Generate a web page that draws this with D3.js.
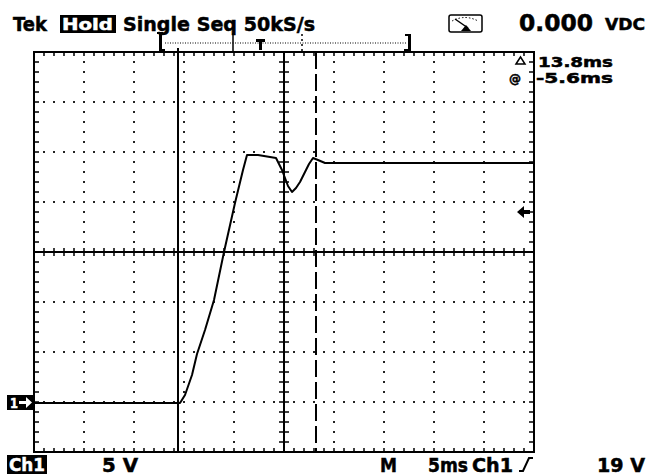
<!DOCTYPE html>
<html><head><meta charset="utf-8">
<script src="https://cdn.jsdelivr.net/npm/d3@7"></script>
<style>
body{margin:0;background:#fff}
svg{display:block}
text{font-family:"DejaVu Sans",sans-serif;font-weight:bold;fill:#000;stroke:#000;stroke-width:0.5px}
</style>
</head><body>
<svg id="c" width="650" height="475"></svg>
<script>
// ---- data (time in ms relative to trigger, voltage in V) ----
const timeMs = [-20, -5.4, -4.9, -4.2, -3.7, -2.9, -2.0, -1.0, 0.1, 0.9, 1.3, 2.4, 3.6, 4.2, 4.4, 4.8, 5.1, 5.4, 5.8, 6.2, 6.6, 7.1, 7.5, 7.9, 8.4, 9.1, 30];
const volts  = [-0.1, -0.1, 0.7, 2.7, 4.8, 7.2, 10.2, 15.0, 19.9, 23.2, 24.7, 24.7, 24.5, 24.4, 24.0, 23.2, 22.4, 21.6, 21.0, 21.4, 22.0, 23.0, 23.8, 24.4, 24.2, 23.9, 23.9];
const timeDomain = [-20, 30];       // 5 ms/div, 10 divisions
const voltDomain = [-5, 35];        // 5 V/div, 8 divisions
const cursorTimes = [-5.6, 8.2];
const triggerLevelV = 19;
const groundLevelV = 0;
const headerLabels = {tek: "Tek", hold: "Hold", mode: "Single Seq 50kS/s", meter: "0.000", unit: "VDC"};
const footerLabels = {ch: "Ch1", scale: "5 V", m: "M", time: "5ms", src: "Ch1", level: "19 V"};
const cursorLabels = ["13.8ms", "-5.6ms"];

// ---- layout ----
const L = 34, R = 534, T = 52, B = 452;
const svg = d3.select("#c");
const x = d3.scaleLinear(timeDomain, [L, R]);
const y = d3.scaleLinear(voltDomain, [B, T]);

const xMajor = d3.range(timeDomain[0], timeDomain[1] + 0.1, 5);
const yMajor = d3.range(voltDomain[0], voltDomain[1] + 0.1, 5);
const xMinor = d3.range(timeDomain[0], timeDomain[1] + 0.1, 1);
const yMinor = d3.range(voltDomain[0], voltDomain[1] + 0.1, 1);
const xCenter = (timeDomain[0] + timeDomain[1]) / 2;
const yCenter = (voltDomain[0] + voltDomain[1]) / 2;

// dotted grid
const g = svg.append("g");
const dots = [];
xMajor.slice(1, -1).filter(t => t !== xCenter).forEach(t => {
  yMinor.slice(1, -1).forEach(v => dots.push([x(t), y(v)]));
});
yMajor.slice(1, -1).filter(v => v !== yCenter).forEach(v => {
  xMinor.slice(1, -1).forEach(t => dots.push([x(t), y(v)]));
});
g.selectAll("rect.dot").data(dots).join("rect")
  .attr("x", d => d[0] - 1).attr("y", d => d[1] - 1)
  .attr("width", 2).attr("height", 2).attr("fill", "#222");

// center axes with ticks
g.append("line").attr("x1", L).attr("x2", R).attr("y1", y(yCenter)).attr("y2", y(yCenter))
  .attr("stroke", "#000").attr("stroke-width", 2);
g.append("line").attr("y1", T).attr("y2", B).attr("x1", x(xCenter)).attr("x2", x(xCenter))
  .attr("stroke", "#000").attr("stroke-width", 2);
g.selectAll("line.cx").data(xMinor.slice(1, -1)).join("line")
  .attr("x1", d => x(d)).attr("x2", d => x(d))
  .attr("y1", y(yCenter) - 4).attr("y2", y(yCenter) + 4)
  .attr("stroke", "#000").attr("stroke-width", 1.5);
g.selectAll("line.cy").data(yMinor.slice(1, -1)).join("line")
  .attr("y1", d => y(d)).attr("y2", d => y(d))
  .attr("x1", x(xCenter) - 5).attr("x2", x(xCenter) + 5)
  .attr("stroke", "#000").attr("stroke-width", 1.5);

// border ticks
const bt = [];
xMinor.slice(1, -1).forEach(t => { bt.push([x(t), T, x(t), T + 4]); bt.push([x(t), B, x(t), B - 4]); });
yMinor.slice(1, -1).forEach(v => { bt.push([L, y(v), L + 5, y(v)]); bt.push([R, y(v), R - 5, y(v)]); });
g.selectAll("line.bt").data(bt).join("line")
  .attr("x1", d => d[0]).attr("y1", d => d[1]).attr("x2", d => d[2]).attr("y2", d => d[3])
  .attr("stroke", "#000").attr("stroke-width", 1.5);

// border
g.append("rect").attr("x", L).attr("y", T).attr("width", R - L).attr("height", B - T)
  .attr("fill", "none").attr("stroke", "#000").attr("stroke-width", 2);

// cursors
svg.append("line").attr("x1", x(cursorTimes[0])).attr("x2", x(cursorTimes[0]))
  .attr("y1", T - 4).attr("y2", B).attr("stroke", "#000").attr("stroke-width", 2);
svg.append("line").attr("x1", x(cursorTimes[1])).attr("x2", x(cursorTimes[1]))
  .attr("y1", T).attr("y2", B).attr("stroke", "#000").attr("stroke-width", 2)
  .attr("stroke-dasharray", "17,5");

// waveform
const pts = timeMs.map((t, i) => [t, volts[i]]);
svg.append("path").datum(pts)
  .attr("d", d3.line().x(d => x(d[0])).y(d => y(d[1])))
  .attr("fill", "none").attr("stroke", "#000").attr("stroke-width", 2)
  .attr("stroke-linejoin", "round");

// helper for fitted text
function txt(s, px, py, size, len, fill) {
  const t = svg.append("text").attr("x", px).attr("y", py).attr("font-size", size).text(s);
  if (len) t.attr("textLength", len).attr("lengthAdjust", "spacingAndGlyphs");
  if (fill) t.style("fill", fill).style("stroke", fill);
  return t;
}

// header
txt(headerLabels.tek, 13, 31, 20, 34);
svg.append("rect").attr("x", 60).attr("y", 15).attr("width", 56).attr("height", 18).attr("fill", "#000");
txt(headerLabels.hold, 62, 30, 16, 51, "#fff");
txt(headerLabels.mode, 123, 31, 20, 192);
txt(headerLabels.meter, 519, 31, 23, 74);
txt(headerLabels.unit, 605, 30, 15, 40);

// meter icon
const mi = svg.append("g");
mi.append("rect").attr("x", 449).attr("y", 15).attr("width", 33).attr("height", 17).attr("rx", 2)
  .attr("fill", "none").attr("stroke", "#000").attr("stroke-width", 1.5);
mi.append("path").attr("d", "M452,21 Q465,14 478,21").attr("fill", "none").attr("stroke", "#000")
  .attr("stroke-width", 1).attr("stroke-dasharray", "1.5,2");
mi.append("path").attr("d", "M455,19 L468,28").attr("stroke", "#000").attr("stroke-width", 1.5);
mi.append("path").attr("d", "M461,31 L466,25 L471,31 Z").attr("fill", "#000");

// record-view bar
const rb = svg.append("g");
rb.append("rect").attr("x", 159).attr("y", 33).attr("width", 3).attr("height", 19).attr("fill", "#000");
rb.append("rect").attr("x", 157).attr("y", 32).attr("width", 6).attr("height", 2).attr("fill", "#000");
rb.append("rect").attr("x", 159).attr("y", 49).attr("width", 6).attr("height", 3).attr("fill", "#000");
rb.append("line").attr("x1", 165).attr("x2", 406).attr("y1", 43).attr("y2", 43)
  .attr("stroke", "#000").attr("stroke-width", 1).attr("stroke-dasharray", "1,1.5");
rb.append("line").attr("x1", x(0) - 1).attr("x2", x(0) - 1).attr("y1", 33).attr("y2", 52)
  .attr("stroke", "#000").attr("stroke-width", 1.5);
rb.append("rect").attr("x", 256).attr("y", 39).attr("width", 9).attr("height", 3).attr("fill", "#000");
rb.append("rect").attr("x", 259).attr("y", 39).attr("width", 3).attr("height", 11).attr("fill", "#000");
rb.append("line").attr("x1", 302).attr("x2", 302).attr("y1", 34).attr("y2", 51)
  .attr("stroke", "#000").attr("stroke-width", 1.5).attr("stroke-dasharray", "2,3");
rb.append("rect").attr("x", 408).attr("y", 34).attr("width", 3).attr("height", 18).attr("fill", "#000");
rb.append("rect").attr("x", 405).attr("y", 34).attr("width", 6).attr("height", 2).attr("fill", "#000");
rb.append("rect").attr("x", 404).attr("y", 49).attr("width", 7).attr("height", 3).attr("fill", "#000");

// cursor readouts
svg.append("path").attr("d", "M516,64 L520.5,57 L525,64 Z").attr("fill", "none")
  .attr("stroke", "#000").attr("stroke-width", 1.5);
txt(cursorLabels[0], 538, 67, 14, 75);
txt("@", 509, 83, 12, 12);
txt(cursorLabels[1], 536, 83, 14, 77);

// ground marker "1→"
const gy = y(groundLevelV);
svg.append("rect").attr("x", 7).attr("y", gy - 7).attr("width", 27).attr("height", 15).attr("fill", "#000");
txt("1", 10, gy + 6, 14, 8, "#fff");
svg.append("path").attr("d", `M19,${gy - 1} H26 V${gy - 5} L32,${gy + 0.5} L26,${gy + 6} V${gy + 2} H19 Z`).attr("fill", "#fff");

// trigger level arrow
const ty = y(triggerLevelV);
svg.append("path").attr("d", `M517,${ty} L524,${ty - 6} V${ty - 2} H530 V${ty + 2} H524 V${ty + 6} Z`).attr("fill", "#000");

// footer
svg.append("rect").attr("x", 7).attr("y", 455).attr("width", 40).attr("height", 19).attr("fill", "#000");
txt(footerLabels.ch, 9, 471, 18, 36, "#fff");
txt(footerLabels.scale, 102, 472, 19, 36);
txt(footerLabels.m, 380, 472, 19, 17);
txt(footerLabels.time, 428, 472, 19, 40);
txt(footerLabels.src, 472, 472, 19, 41);
svg.append("path").attr("d", "M519,471 H523 L529,458 H533").attr("fill", "none")
  .attr("stroke", "#000").attr("stroke-width", 2);
txt(footerLabels.level, 597, 472, 19, 48);
</script>
</body></html>
